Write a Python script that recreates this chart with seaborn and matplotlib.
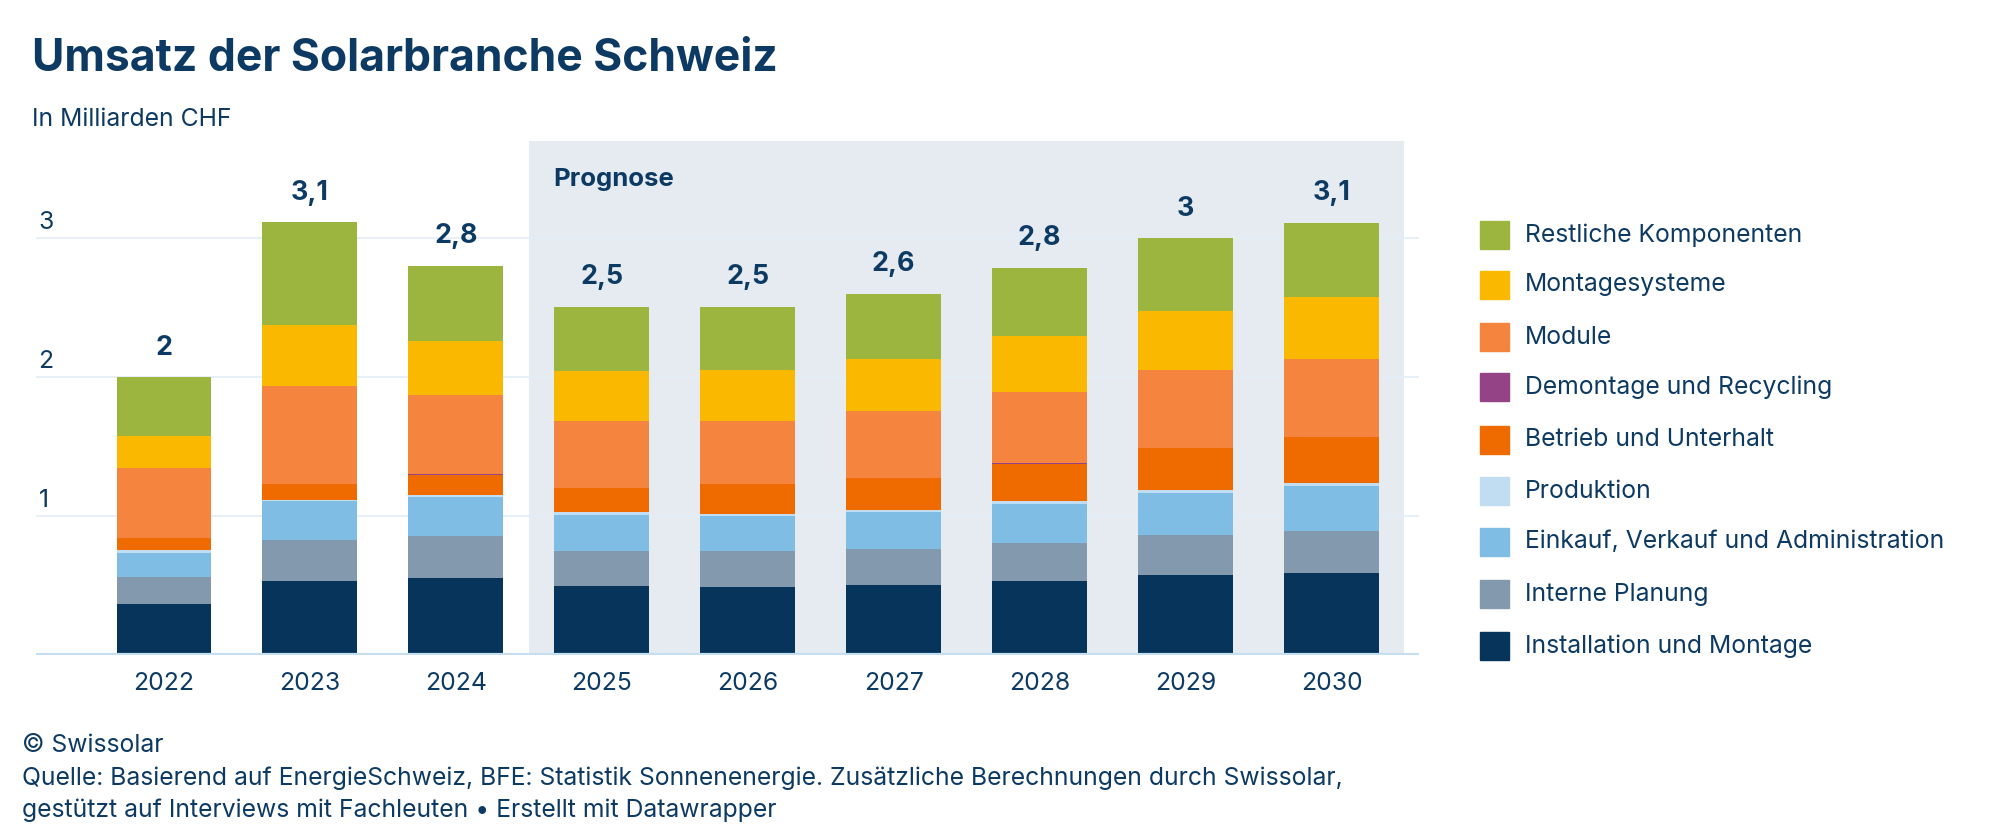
import numpy as np
import pandas as pd
import seaborn as sns
import matplotlib.pyplot as plt
from matplotlib.patches import Rectangle

# Umsatz in Mrd. CHF je Bereich, von unten nach oben gestapelt
years = ['2022', '2023', '2024', '2025', '2026', '2027', '2028', '2029', '2030']
installation = [0.37, 0.53, 0.556, 0.494, 0.489, 0.504, 0.535, 0.573, 0.592]
interne = [0.195, 0.30, 0.303, 0.257, 0.257, 0.261, 0.271, 0.293, 0.302]
einkauf = [0.172, 0.276, 0.278, 0.259, 0.254, 0.264, 0.283, 0.299, 0.319]
produktion = [0.02, 0.012, 0.016, 0.019, 0.017, 0.017, 0.021, 0.024, 0.022]
betrieb = [0.086, 0.112, 0.14, 0.175, 0.216, 0.23, 0.262, 0.30, 0.333]
demontage = [0.0, 0.0, 0.012, 0.0, 0.0, 0.0, 0.007, 0.0, 0.0]
module = [0.506, 0.705, 0.568, 0.479, 0.455, 0.484, 0.515, 0.559, 0.564]
montagesysteme = [0.23, 0.437, 0.384, 0.358, 0.36, 0.372, 0.401, 0.427, 0.448]
restliche = [0.42, 0.743, 0.542, 0.467, 0.46, 0.468, 0.494, 0.525, 0.53]
totals = ['2', '3,1', '2,8', '2,5', '2,5', '2,6', '2,8', '3', '3,1']

series = [
    ('Installation und Montage', installation, '#06345b'),
    ('Interne Planung', interne, '#8299ae'),
    ('Einkauf, Verkauf und Administration', einkauf, '#80bde5'),
    ('Produktion', produktion, '#c0ddf1'),
    ('Betrieb und Unterhalt', betrieb, '#ef6b00'),
    ('Demontage und Recycling', demontage, '#944486'),
    ('Module', module, '#f4843e'),
    ('Montagesysteme', montagesysteme, '#fbb800'),
    ('Restliche Komponenten', restliche, '#9bb53f'),
]

txt = '#0d3a63'
fs = 17.8
sns.set_style('white')
plt.rcParams['font.family'] = ['Inter', 'DejaVu Sans']

df = pd.DataFrame({name: vals for name, vals, _ in series}, index=years)
cum = df.cumsum(axis=1)

fig = plt.figure(figsize=(20.1, 8.4), dpi=100)
ax = fig.add_axes([36 / 2010, 1 - 655 / 840, (1419 - 36) / 2010, (655 - 141) / 840])

# Prognose-Bereich
ax.axvspan(2.5, 8.5, color='#e5ebf0', zorder=0, lw=0)
ax.text(2.67, 3.42, 'Prognose', fontsize=18.5, fontweight='bold', color=txt, va='center')

for y in [1, 2, 3]:
    ax.axhline(y, color='#e3eef7', lw=1.2, zorder=0.5)
    ax.text(-0.86, y + 0.03, str(y), fontsize=fs, color=txt, va='bottom', ha='left')

# gestapelt: kumulierte Summen von oben nach unten zeichnen
for name, _, col in reversed(series):
    sns.barplot(x=years, y=cum[name].values, color=col, saturation=1,
                width=0.65, linewidth=0, ax=ax, zorder=2)

for i, lab in enumerate(totals):
    ax.text(i, cum.iloc[i, -1] + 0.12, lab, ha='center', va='bottom',
            fontsize=19.3, fontweight='bold', color=txt)

ax.axhline(0, color='#c5dff2', lw=3, zorder=3)
ax.set_xlim(-0.877, 8.6)
ax.set_ylim(0, 3.70)
ax.set_yticks([])
ax.set_xlabel('')
ax.set_ylabel('')
ax.tick_params(axis='x', length=0, pad=12, labelsize=fs, labelcolor=txt)
sns.despine(ax=ax, left=True, bottom=True)

# Legende
leg_y = [235, 285, 337, 387, 440, 491, 542, 594, 646]
for (name, _, col), yy in zip(reversed(series), leg_y):
    fig.patches.append(Rectangle((1480 / 2010, 1 - (yy + 14) / 840), 29 / 2010, 28 / 840,
                                 transform=fig.transFigure, color=col))
    fig.text(1525 / 2010, 1 - yy / 840, name, fontsize=fs, color=txt, va='center')

fig.text(32 / 2010, 1 - 59 / 840, 'Umsatz der Solarbranche Schweiz', fontsize=32,
         fontweight='bold', color=txt, va='center')
fig.text(32 / 2010, 1 - 119 / 840, 'In Milliarden CHF', fontsize=fs, color=txt, va='center')

fig.text(22 / 2010, 1 - 746 / 840, '© Swissolar', fontsize=fs, color=txt, va='center')
fig.text(22 / 2010, 1 - 778 / 840,
         'Quelle: Basierend auf EnergieSchweiz, BFE: Statistik Sonnenenergie. '
         'Zusätzliche Berechnungen durch Swissolar,', fontsize=fs, color=txt, va='center')
fig.text(22 / 2010, 1 - 810 / 840,
         'gestützt auf Interviews mit Fachleuten • Erstellt mit Datawrapper',
         fontsize=fs, color=txt, va='center')

fig.savefig('out.png', dpi=100)
